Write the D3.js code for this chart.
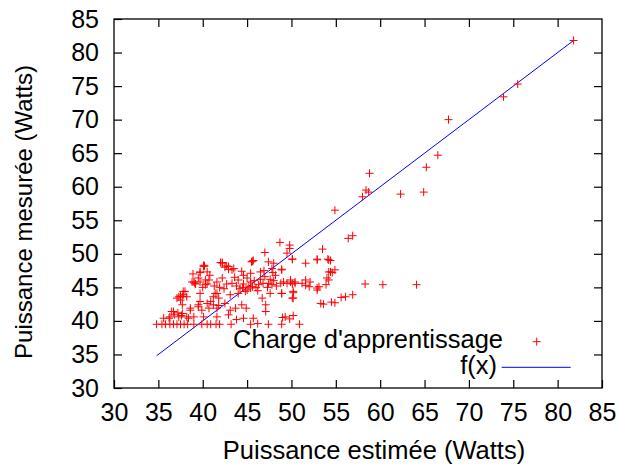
<!DOCTYPE html>
<html>
<head>
<meta charset="utf-8">
<script src="https://cdn.jsdelivr.net/npm/d3@7/dist/d3.min.js"></script>
<style>
  body { margin: 0; background: #fff; }
  svg text { font-family: "Liberation Sans", Arial, Helvetica, sans-serif; font-size: 25px; fill: #000; }
</style>
</head>
<body>
<div id="chart"></div>
<script>
// ticks of both axes
const xTicks = [30, 35, 40, 45, 50, 55, 60, 65, 70, 75, 80, 85];
const yTicks = [30, 35, 40, 45, 50, 55, 60, 65, 70, 75, 80, 85];

// puissance estimée (x) / mesurée (y)
const estimee = [
  81.8, 75.5, 73.9, 67.7, 66.5, 65.2, 64.9, 58.8, 58.4, 58.7, 58.0, 62.3, 54.9, 56.4, 56.9,
  58.3, 60.3, 64.1, 56.1, 56.9, 53.6, 54.9,
  54.9, 54.6, 54.4, 53.5, 51.6, 52.9, 54.1, 48.9, 54.2, 54.0, 53.1, 53.9, 52.9, 48.9, 50.2, 50.1,
  48.8, 49.5, 50.1, 51.2, 51.6, 52.0,
  48.7, 49.8, 49.8, 49.5, 50.1, 47.0, 45.7, 45.5, 48.0, 40.2, 42.2, 42.5, 42.9, 43.3, 39.7, 40.5,
  42.0, 45.6, 47.4, 50.1, 40.1, 39.7, 42.9, 43.5, 44.4, 45.4, 46.5, 47.8, 48.9, 48.2,
  39.0, 39.2, 40.3, 40.5, 41.6, 42.2, 42.7, 43.3, 44.0, 44.6, 45.0, 45.4, 45.6, 46.3, 46.8, 47.4, 47.8, 49.1, 49.9, 50.4,
  37.8, 37.3, 38.2, 39.7, 41.4, 41.8, 43.1, 44.0, 44.8, 45.4, 46.7, 47.6, 48.9, 50.2, 50.2,
  37.7, 38.6, 39.5, 39.9, 40.5, 41.2, 41.6, 42.5, 43.1, 43.7, 44.4, 44.9, 47.1, 47.1,
  36.3, 36.8, 37.3, 37.6, 38.4, 39.0, 40.1, 41.6, 42.9, 43.8, 44.6, 45.7, 49.3, 50.2,
  34.8, 35.4, 35.8, 36.3, 36.7, 37.1, 37.5, 37.9, 38.3, 39.0, 39.9, 40.5, 40.9, 41.5, 41.9, 43.2, 45.4, 47.4, 48.9, 46.2, 50.9, 49.0, 49.8,
  53.3, 54.5, 55.6,
  52.9, 54.2, 54.4, 54.2, 52.9, 52.1, 51.6, 50.4, 49.9,
  40.1, 42.2, 42.7, 38.8, 39.1, 39.7, 40.3, 40.7, 38.0, 37.7, 37.5, 37.1, 36.7, 37.2, 37.7, 38.2, 38.6, 39.5, 39.7, 40.9, 40.7, 41.2, 41.6, 41.8,
  44.5, 45.2, 45.8, 46.0, 46.5, 47.0, 47.3, 47.6, 48.0, 48.3, 45.0, 44.2, 43.8, 46.2, 47.9, 46.9, 44.6, 43.6,
  40.8, 41.3, 41.9, 42.4, 40.0, 39.5, 38.9,
  36.5, 36.2, 35.6, 37.8, 37.5
];
const mesuree = [
  81.8, 75.3, 73.4, 70.0, 64.7, 62.9, 59.2, 62.0, 59.5, 59.2, 58.5, 58.9, 56.5, 52.3, 52.7,
  45.5, 45.4, 45.4, 43.6, 43.9, 42.5, 42.7,
  47.6, 47.2, 49.0, 50.7, 48.6, 49.2, 49.2, 47.7, 47.3, 46.4, 45.1, 45.4, 44.6, 44.1, 44.2, 43.4,
  45.6, 45.6, 45.5, 45.6, 45.3, 45.1,
  51.7, 51.3, 50.8, 50.1, 49.2, 50.2, 49.0, 48.8, 48.6, 48.2, 48.7, 48.0, 48.1, 47.6, 47.2, 47.3,
  48.7, 48.9, 48.8, 49.2, 48.1, 47.3, 47.7, 47.8, 47.4, 47.1, 47.3, 47.8, 47.6, 46.8,
  45.8, 45.5, 46.1, 45.5, 45.8, 46.4, 45.5, 45.6, 46.1, 45.5, 46.4, 45.8, 45.1, 45.4, 45.6, 45.6, 45.4, 45.8, 45.8, 45.6,
  44.4, 43.6, 43.6, 44.1, 44.1, 43.4, 43.9, 44.1, 44.4, 44.9, 43.4, 44.1, 44.1, 44.4, 43.4,
  42.4, 41.9, 42.4, 41.6, 42.6, 42.4, 41.9, 42.6, 41.6, 41.9, 42.4, 41.9, 42.4, 41.4,
  40.6, 40.9, 40.6, 40.8, 40.4, 40.6, 40.6, 40.6, 40.9, 40.2, 40.4, 40.4, 40.6, 40.8,
  39.5, 39.5, 39.5, 39.5, 39.5, 39.5, 39.5, 39.5, 39.5, 39.5, 39.5, 39.5, 39.5, 39.5, 39.5, 39.5, 39.5, 39.5, 39.5, 39.6, 39.5, 40.5, 40.3,
  42.6, 42.8, 43.5,
  49.1, 49.1, 47.3, 46.1, 44.9, 45.8, 46.1, 45.8, 46.1,
  48.3, 48.6, 48.2, 45.8, 45.6, 45.8, 45.4, 46.1, 44.4, 43.6, 43.7, 43.4, 41.4, 41.2, 41.1, 40.6, 41.6, 42.1, 42.9, 42.9, 41.9, 43.6, 44.1, 42.3,
  45.0, 45.2, 46.0, 45.0, 46.2, 46.6, 45.0, 46.2, 46.0, 45.2, 44.6, 44.8, 45.2, 44.5, 47.2, 47.5, 46.8, 46.5,
  46.8, 45.2, 45.0, 44.8, 45.0, 46.4, 47.0,
  41.4, 40.4, 40.4, 43.9, 43.1
];

const drawChart = () => {
  const chartSize = { width: 620, height: 466 };
  const margin = { left: 114, top: 19 };
  const width = 488;
  const height = 369;

  const x = d3.scaleLinear().domain([30, 85]).range([0, width]);
  const y = d3.scaleLinear().domain([30, 85]).range([height, 0]);

  const svg = d3.select("#chart")
    .append("svg")
    .attr("width", chartSize.width)
    .attr("height", chartSize.height);

  const g = svg.append("g")
    .attr("transform", `translate(${margin.left},${margin.top})`);

  // axes, ticks pointing inward (gnuplot style)
  const tickLen = 8;
  g.append("g")
    .attr("class", "x-axis")
    .attr("transform", `translate(0,${height})`)
    .call(d3.axisBottom(x).tickValues(xTicks).tickSizeInner(-tickLen).tickSizeOuter(0).tickPadding(15));
  g.append("g")
    .attr("class", "y-axis")
    .call(d3.axisLeft(y).tickValues(yTicks).tickSizeInner(-tickLen).tickSizeOuter(0).tickPadding(15));
  g.append("g")
    .attr("class", "x-top")
    .call(d3.axisTop(x).tickValues(xTicks.slice(1, -1)).tickSizeInner(-tickLen).tickSizeOuter(0).tickFormat(""));
  g.append("g")
    .attr("class", "y-right")
    .attr("transform", `translate(${width},0)`)
    .call(d3.axisRight(y).tickValues(yTicks.slice(1, -1)).tickSizeInner(-tickLen).tickSizeOuter(0).tickFormat(""));

  g.selectAll(".domain").remove();
  g.selectAll(".tick line").attr("stroke", "#000").attr("stroke-width", 1.2);
  g.selectAll(".tick text")
    .attr("font-family", "'Liberation Sans', Arial, sans-serif")
    .attr("font-size", 25)
    .attr("fill", "#000");

  g.append("rect")
    .attr("width", width)
    .attr("height", height)
    .attr("fill", "none")
    .attr("stroke", "#000")
    .attr("stroke-width", 1.3);

  // axis titles
  svg.append("text")
    .attr("x", 374)
    .attr("y", 459)
    .attr("text-anchor", "middle")
    .style("font-size", "25.5px")
    .text("Puissance estimée (Watts)");
  svg.append("text")
    .attr("transform", "rotate(-90)")
    .attr("x", -212)
    .attr("y", 32)
    .attr("text-anchor", "middle")
    .style("font-size", "24px")
    .text("Puissance mesurée (Watts)");

  // f(x) = x over the data range
  const lo = d3.min(estimee), hi = d3.max(estimee);
  g.append("line")
    .attr("x1", x(lo)).attr("y1", y(lo))
    .attr("x2", x(hi)).attr("y2", y(hi))
    .attr("stroke", "#0000ff")
    .attr("stroke-width", 1);

  const plus = (sel, s) => sel.attr("d", `M${-s},0H${s}M0,${-s}V${s}`);

  const points = d3.zip(estimee, mesuree);
  g.selectAll("path.pt")
    .data(points)
    .enter()
    .append("path")
    .attr("class", "pt")
    .attr("transform", d => `translate(${x(d[0])},${y(d[1])})`)
    .call(plus, 4)
    .attr("stroke", "#ff0000")
    .attr("stroke-width", 1)
    .attr("fill", "none");

  // legend
  svg.append("text")
    .attr("x", 503)
    .attr("y", 347.5)
    .attr("text-anchor", "end")
    .style("font-size", "25.5px")
    .text("Charge d'apprentissage");
  svg.append("path")
    .attr("transform", "translate(536.7,341.7)")
    .call(plus, 4)
    .attr("stroke", "#ff0000")
    .attr("stroke-width", 1);
  svg.append("text")
    .attr("x", 497)
    .attr("y", 374)
    .attr("text-anchor", "end")
    .style("font-size", "25.5px")
    .text("f(x)");
  svg.append("line")
    .attr("x1", 501.7).attr("x2", 570.7)
    .attr("y1", 367.3).attr("y2", 367.3)
    .attr("stroke", "#0000ff")
    .attr("stroke-width", 1);
};

window.onload = drawChart;
</script>
</body>
</html>
